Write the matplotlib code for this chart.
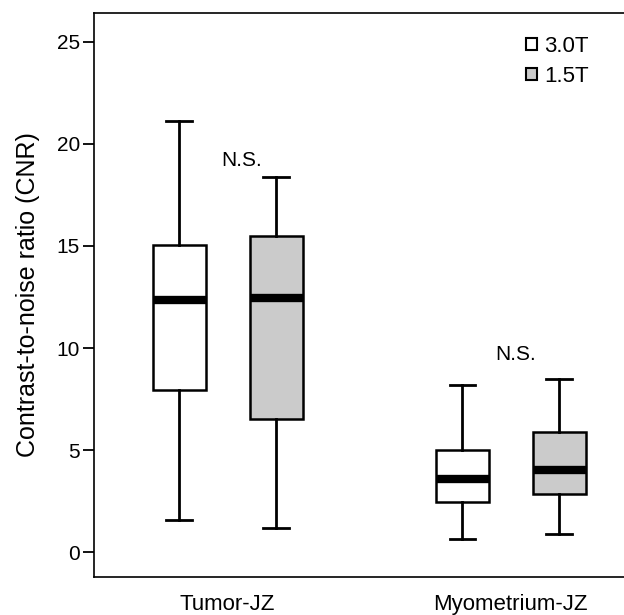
import matplotlib
matplotlib.use("Agg")
import matplotlib.pyplot as plt
from matplotlib.patches import Patch

plt.rcParams['font.family'] = ['Liberation Sans', 'DejaVu Sans']

# ---- data ----
groups = ["Tumor-JZ", "Myometrium-JZ"]
series = ["3.0T", "1.5T"]
whislo = [[1.6, 1.2], [0.65, 0.9]]
q1 = [[7.95, 6.55], [2.45, 2.85]]
med = [[12.35, 12.45], [3.6, 4.05]]
q3 = [[15.05, 15.5], [5.0, 5.9]]
whishi = [[21.1, 18.4], [8.2, 8.5]]
ns_y = [19.2, 9.7]

colors = ["white", "#cbcbcb"]
offset = 0.171
box_w = 0.187

fig = plt.figure(figsize=(6.24, 6.15), dpi=100)
ax = fig.add_axes([0.1506, 0.0618, 0.8494, 0.917])

for gi, g in enumerate(groups):
    for si, s in enumerate(series):
        st = dict(whislo=whislo[gi][si], q1=q1[gi][si], med=med[gi][si],
                  q3=q3[gi][si], whishi=whishi[gi][si], fliers=[])
        pos = gi + 1 + (-offset if si == 0 else offset)
        ax.bxp([st], positions=[pos], widths=box_w, capwidths=box_w * 0.48,
               showfliers=False, patch_artist=True,
               boxprops=dict(facecolor=colors[si], edgecolor="black", linewidth=1.8),
               medianprops=dict(color="black", linewidth=6, solid_capstyle="butt"),
               whiskerprops=dict(color="black", linewidth=2.0),
               capprops=dict(color="black", linewidth=2.0))
    ax.text(gi + 1 + 0.05 - 0.034 * gi, ns_y[gi], "N.S.", fontsize=15,
            ha="center", va="center")

ax.set_xlim(0.528, 2.40)
ax.set_ylim(-1.2, 26.4)
ax.set_xticks([1, 2])
ax.set_xticklabels(groups, fontsize=16)
ax.tick_params(axis="x", length=0, pad=12)
ax.set_yticks([0, 5, 10, 15, 20, 25])
ax.tick_params(axis="y", labelsize=15, length=8, width=1.3, direction="out", pad=2)
ax.set_ylabel("Contrast-to-noise ratio (CNR)", fontsize=18, labelpad=12)

ax.spines["right"].set_visible(False)
for sp in ["left", "bottom", "top"]:
    ax.spines[sp].set_linewidth(1.2)

handles = [Patch(facecolor=c, edgecolor="black", linewidth=1.5) for c in colors]
ax.legend(handles, series, loc="upper right", bbox_to_anchor=(0.95, 0.975),
          frameon=False, fontsize=16, handlelength=0.5, handleheight=0.5,
          handletextpad=0.3, labelspacing=0.4, borderaxespad=0)

fig.savefig("out.png", dpi=100)
